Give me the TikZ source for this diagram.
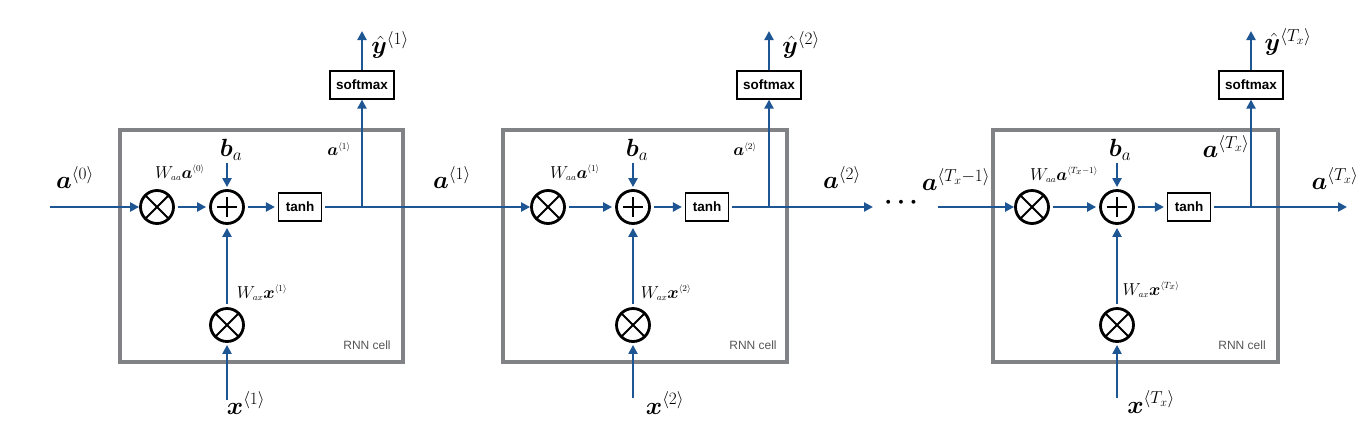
\documentclass[tikz,border=0pt]{standalone}
\usepackage{bm}
\usepackage{fontspec}
\newfontfamily\helv{Liberation Sans}
\usetikzlibrary{arrows.meta}
\definecolor{arrowblue}{RGB}{30,86,148}
\definecolor{cellgray}{RGB}{128,130,134}
\definecolor{labelgray}{RGB}{85,85,85}
\newcommand{\tsup}[1]{^{\scriptscriptstyle\langle #1\rangle}}
\newcommand{\tsub}[1]{_{\scriptscriptstyle #1}}
\tikzset{
  flow/.style={draw=arrowblue, line width=2.2pt, -{Triangle[length=9pt,width=9pt]}},
  cellbox/.style={draw=cellgray, line width=4.5pt},
  op/.style={circle, draw=black, line width=2.8pt, minimum size=33pt, inner sep=0pt},
  timesop/.style={op, path picture={
      \draw[line width=2pt] (path picture bounding box.south west) -- (path picture bounding box.north east);
      \draw[line width=2pt] (path picture bounding box.north west) -- (path picture bounding box.south east);}},
  plusop/.style={op, path picture={
      \draw[line width=2pt] ([xshift=-10pt]path picture bounding box.center) -- ([xshift=10pt]path picture bounding box.center);
      \draw[line width=2pt] ([yshift=-10pt]path picture bounding box.center) -- ([yshift=10pt]path picture bounding box.center);}},
  fnbox/.style={rectangle, draw=black, line width=1.2pt, fill=white, minimum height=28pt,
      inner xsep=3pt, font=\helv\bfseries\fontsize{13.5}{14}\selectfont},
  biglbl/.style={inner sep=0pt, font=\fontsize{24}{28}\selectfont},
  midlbl/.style={inner sep=0pt, font=\fontsize{18}{21}\selectfont},
  smalllbl/.style={inner sep=0pt, font=\fontsize{19}{22}\selectfont},
  celllbl/.style={inner sep=0pt, text=labelgray, font=\helv\fontsize{12}{14}\selectfont},
  gap/.style={shorten <=3pt, shorten >=3pt},
}
\begin{document}
\begin{tikzpicture}[x=1pt,y=-1pt]
\useasboundingbox (0,0) rectangle (1362,426);

% ---------- cell boxes ----------
\draw[cellbox] (120,130) rectangle (403,362);
\draw[cellbox] (503,130) rectangle (787,362);
\draw[cellbox] (993,130) rectangle (1278,362);

% ---------- cell 1 ----------
\node[timesop] (m1) at (157,207) {};
\node[plusop]  (p1) at (227,207) {};
\node[fnbox, minimum width=43pt] (t1) at (300,207) {tanh};
\node[fnbox, minimum width=64pt] (s1) at (362,85) {softmax};
\node[timesop] (q1) at (227,325) {};
\coordinate (j1) at (362,207);
\coordinate (ain1) at (50,207);
\coordinate (bin1) at (227,163);
\coordinate (xin1) at (227,400);
\coordinate (yout1) at (362,31);

\node[biglbl] (la0) at (75,178) {$\bm{a}^{\langle 0\rangle}$};
\node[midlbl] (lw1) at (180,173) {$W\tsub{aa}\bm{a}\tsup{0}$};
\node[biglbl] (lb1) at (231,150) {$\bm{b}_a$};
\node[smalllbl] (ls1) at (339,149) {$\bm{a}\tsup{1}$};
\node[biglbl] (ly1) at (390,45) {$\bm{\hat{y}}^{\langle 1\rangle}$};
\node[midlbl] (lx1w) at (262,293) {$W\tsub{ax}\bm{x}\tsup{1}$};
\node[biglbl] (lx1) at (246,403) {$\bm{x}^{\langle 1\rangle}$};
\node[celllbl] (c1) at (367,345) {RNN cell};

% ---------- cell 2 ----------
\node[timesop] (m2) at (548,207) {};
\node[plusop]  (p2) at (633,207) {};
\node[fnbox, minimum width=43pt] (t2) at (707,207) {tanh};
\node[fnbox, minimum width=64pt] (s2) at (769,85) {softmax};
\node[timesop] (q2) at (633,325) {};
\coordinate (j2) at (769,207);
\coordinate (bin2) at (633,163);
\coordinate (xin2) at (633,398);
\coordinate (yout2) at (769,31);
\coordinate (aout2) at (873,207);

\node[biglbl] (la1) at (452,178) {$\bm{a}^{\langle 1\rangle}$};
\node[midlbl] (lw2) at (575,173) {$W\tsub{aa}\bm{a}\tsup{1}$};
\node[biglbl] (lb2) at (637,150) {$\bm{b}_a$};
\node[smalllbl] (ls2) at (745,149) {$\bm{a}\tsup{2}$};
\node[biglbl] (ly2) at (801,45) {$\bm{\hat{y}}^{\langle 2\rangle}$};
\node[midlbl] (lx2w) at (666,293) {$W\tsub{ax}\bm{x}\tsup{2}$};
\node[biglbl] (lx2) at (665,403) {$\bm{x}^{\langle 2\rangle}$};
\node[biglbl] (la2) at (842,178) {$\bm{a}^{\langle 2\rangle}$};
\node[celllbl] (c2) at (753,345) {RNN cell};

% ---------- dots ----------
\node[inner sep=0pt, font=\fontsize{28}{30}\selectfont\boldmath] (dots) at (901,203) {$\cdots$};

% ---------- cell 3 ----------
\node[timesop] (m3) at (1032,207) {};
\node[plusop]  (p3) at (1117,207) {};
\node[fnbox, minimum width=43pt] (t3) at (1189,207) {tanh};
\node[fnbox, minimum width=64pt] (s3) at (1251,85) {softmax};
\node[timesop] (q3) at (1117,325) {};
\coordinate (j3) at (1251,207);
\coordinate (ain3) at (938,207);
\coordinate (bin3) at (1117,163);
\coordinate (xin3) at (1117,398);
\coordinate (yout3) at (1251,31);
\coordinate (aout3) at (1347,207);

\node[biglbl] (la3in) at (956,180) {$\bm{a}^{\langle T_x-1\rangle}$};
\node[midlbl] (lw3) at (1064,175) {$W\tsub{aa}\bm{a}\tsup{T_x-1}$};
\node[biglbl] (lb3) at (1120,150) {$\bm{b}_a$};
\node[biglbl] (ls3) at (1226,147) {$\bm{a}^{\langle T_x\rangle}$};
\node[biglbl] (ly3) at (1288,42) {$\bm{\hat{y}}^{\langle T_x\rangle}$};
\node[midlbl] (lx3w) at (1151,290) {$W\tsub{ax}\bm{x}\tsup{T_x}$};
\node[biglbl] (lx3) at (1151,402) {$\bm{x}^{\langle T_x\rangle}$};
\node[biglbl] (la3) at (1335,179) {$\bm{a}^{\langle T_x\rangle}$};
\node[celllbl] (c3) at (1242,345) {RNN cell};

% ---------- connectors cell 1 ----------
\draw[flow] (ain1) -- (m1);
\draw[flow, gap] (m1) -- (p1);
\draw[flow, gap] (p1) -- (t1);
\draw[flow, shorten <=3pt] (t1) -- (m2);
\draw[flow] (j1) -- (s1);
\draw[flow] (s1) -- (yout1);
\draw[flow, shorten >=2pt] (bin1) -- (p1);
\draw[flow, gap] (q1) -- (p1);
\draw[flow, shorten >=2pt] (xin1) -- (q1);

% ---------- connectors cell 2 ----------
\draw[flow, gap] (m2) -- (p2);
\draw[flow, gap] (p2) -- (t2);
\draw[flow, shorten <=3pt] (t2) -- (aout2);
\draw[flow] (j2) -- (s2);
\draw[flow] (s2) -- (yout2);
\draw[flow, shorten >=2pt] (bin2) -- (p2);
\draw[flow, gap] (q2) -- (p2);
\draw[flow, shorten >=2pt] (xin2) -- (q2);

% ---------- connectors cell 3 ----------
\draw[flow] (ain3) -- (m3);
\draw[flow, gap] (m3) -- (p3);
\draw[flow, gap] (p3) -- (t3);
\draw[flow, shorten <=3pt] (t3) -- (aout3);
\draw[flow] (j3) -- (s3);
\draw[flow] (s3) -- (yout3);
\draw[flow, shorten >=2pt] (bin3) -- (p3);
\draw[flow, gap] (q3) -- (p3);
\draw[flow, shorten >=2pt] (xin3) -- (q3);
\end{tikzpicture}
\end{document}
